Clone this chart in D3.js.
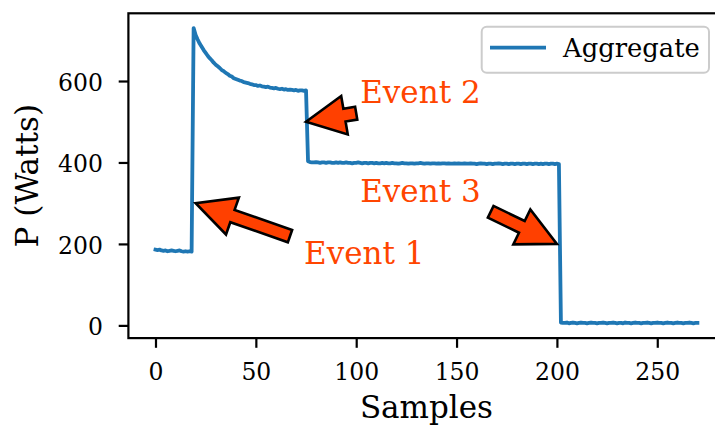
<!DOCTYPE html>
<html>
<head>
<meta charset="utf-8">
<script src="https://cdn.jsdelivr.net/npm/d3@7"></script>
<style>
  html, body { margin: 0; padding: 0; background: #fff; }
  svg { display: block; font-family: "DejaVu Serif", serif; }
</style>
</head>
<body>
<svg id="chart" width="715" height="425"></svg>
<script>
// Aggregate power per sample (W); sample number = index
const power = [
  186,185,186,184,183,184,182,183,184,183,182,183,184,182,181,182,181,182,181,
  730,
  713,702,692,684,676,669,662,656,651,645,640,
  636,632,627,624,620,617,613,611,607,605,
  603,601,600,597,596,595,593,592,590,590,
  588,589,587,586,585,586,584,583,582,583,
  581,580,581,579,580,578,579,578,577,578,576,577,577,576,577,
  403,
  401,400,400,401,400,399,400,400,399,400,
  400,399,399,400,399,400,399,399,400,399,
  399,398,399,399,400,399,398,399,399,398,
  399,399,398,399,398,398,399,398,399,398,
  398,399,398,398,397,398,399,398,398,397,
  398,398,397,398,398,399,398,397,398,398,
  397,398,398,397,398,397,398,398,397,398,
  397,397,398,397,398,397,397,398,397,397,
  398,397,397,396,397,398,397,397,396,397,
  397,396,397,397,398,397,396,397,397,396,
  397,397,396,397,397,396,397,397,396,397,
  397,396,397,397,396,397,396,397,397,396,
  397,397,396,397,
  396,
  7,6,6,7,5,6,7,6,5,6,
  7,6,6,5,6,7,6,6,5,6,
  6,7,6,5,6,6,7,6,5,6,
  6,5,7,6,6,5,6,7,6,6,
  5,6,6,7,6,5,6,6,7,6,
  6,5,6,7,6,6,5,6,7,6,
  6,5,6,6,7,6,5,6,6
];
const seriesName = "Aggregate";
const xTicks = [0, 50, 100, 150, 200, 250];
const yTicks = [0, 200, 400, 600];
const xLabel = "Samples";
const yLabel = "P (Watts)";

// Event annotations, in data units (sample, watts)
const eventLabels = ["Event 1", "Event 2", "Event 3"];
const eventTipX   = [20, 75, 200];
const eventTipY   = [300, 500, 200];
const eventTailX  = [67, 100, 167];
const eventTailY  = [219, 521, 279];
const eventTextX  = [74, 102, 102];
const eventTextY  = [150, 547, 303];

const plot = { left: 128.4, right: 724.5, top: 13.3, bottom: 338.1 };

const svg = d3.select("#chart");

// autoscaled limits with 5% margins
const xExt = [0, power.length - 1];
const xPad = (xExt[1] - xExt[0]) * 0.05;
const yExt = d3.extent(power);
const yPad = (yExt[1] - yExt[0]) * 0.05;

const x = d3.scaleLinear().domain([xExt[0] - xPad, xExt[1] + xPad]).range([plot.left, plot.right]);
const y = d3.scaleLinear().domain([yExt[0] - yPad, yExt[1] + yPad]).range([plot.bottom, plot.top]);

const tickLen = 9.7, tickFont = 23.5, spineW = 2.2, labelFont = 31;

// x axis
const gx = svg.append("g")
  .attr("transform", `translate(0,${plot.bottom})`)
  .call(d3.axisBottom(x).tickValues(xTicks).tickFormat(d3.format("d")).tickSize(tickLen).tickSizeOuter(0));
gx.select(".domain").remove();
gx.selectAll(".tick line").attr("stroke", "#000").attr("stroke-width", spineW);
gx.selectAll(".tick text")
  .attr("y", 41.5).attr("dy", null)
  .attr("fill", "#000")
  .style("font-family", "DejaVu Serif").style("font-size", tickFont + "px");

// y axis
const gy = svg.append("g")
  .attr("transform", `translate(${plot.left},0)`)
  .call(d3.axisLeft(y).tickValues(yTicks).tickFormat(d3.format("d")).tickSize(tickLen).tickSizeOuter(0));
gy.select(".domain").remove();
gy.selectAll(".tick line").attr("stroke", "#000").attr("stroke-width", spineW);
gy.selectAll(".tick text")
  .attr("x", -25.5).attr("dy", 9.5)
  .attr("fill", "#000")
  .style("font-family", "DejaVu Serif").style("font-size", tickFont + "px");

// power trace
const line = d3.line().x((d, i) => x(i)).y(d => y(d));
svg.append("path")
  .datum(power)
  .attr("d", line)
  .attr("fill", "none")
  .attr("stroke", "#1f77b4")
  .attr("stroke-width", 3.8)
  .attr("stroke-linejoin", "round")
  .attr("stroke-linecap", "square");

// frame
svg.append("rect")
  .attr("x", plot.left).attr("y", plot.top)
  .attr("width", plot.right - plot.left).attr("height", plot.bottom - plot.top)
  .attr("fill", "none").attr("stroke", "#000").attr("stroke-width", spineW);

// axis labels
svg.append("text")
  .attr("x", (plot.left + plot.right) / 2).attr("y", 417.5)
  .attr("text-anchor", "middle")
  .style("font-size", labelFont + "px")
  .text(xLabel);
svg.append("text")
  .attr("transform", `translate(37.5,${(plot.top + plot.bottom) / 2}) rotate(-90)`)
  .attr("text-anchor", "middle")
  .style("font-size", labelFont + "px")
  .text(yLabel);

// block arrows pointing at each event
function arrowPoints(tx, ty, px, py) {
  const dx = px - tx, dy = py - ty, L = Math.hypot(dx, dy);
  const ux = dx / L, uy = dy / L, nx = -uy, ny = ux;
  const hl = 39, hw = 19.5, tw = 6.5;
  const bx = px - ux * hl, by = py - uy * hl;
  return [
    [tx + nx * tw, ty + ny * tw],
    [bx + nx * tw, by + ny * tw],
    [bx + nx * hw, by + ny * hw],
    [px, py],
    [bx - nx * hw, by - ny * hw],
    [bx - nx * tw, by - ny * tw],
    [tx - nx * tw, ty - ny * tw]
  ];
}
const events = eventLabels.map((label, i) => ({
  label, tipX: eventTipX[i], tipY: eventTipY[i],
  tailX: eventTailX[i], tailY: eventTailY[i],
  textX: eventTextX[i], textY: eventTextY[i]
}));

svg.append("g").selectAll("polygon")
  .data(events)
  .join("polygon")
  .attr("points", d => arrowPoints(x(d.tailX), y(d.tailY), x(d.tipX), y(d.tipY)).map(p => p.join(",")).join(" "))
  .attr("fill", "#ff4000")
  .attr("stroke", "#000")
  .attr("stroke-width", 2.6)
  .attr("stroke-linejoin", "miter");

svg.append("g").selectAll("text")
  .data(events)
  .join("text")
  .attr("x", d => x(d.textX))
  .attr("y", d => y(d.textY))
  .attr("fill", "#ff4500")
  .style("font-size", "31px")
  .text(d => d.label);

// legend
const lg = svg.append("g");
lg.append("rect")
  .attr("x", 481.7).attr("y", 26.7).attr("width", 227.3).attr("height", 46)
  .attr("rx", 5).attr("ry", 5)
  .attr("fill", "#fff").attr("fill-opacity", 0.8)
  .attr("stroke", "#cccccc").attr("stroke-width", 2);
lg.append("line")
  .attr("x1", 490).attr("x2", 546).attr("y1", 47.7).attr("y2", 47.7)
  .attr("stroke", "#1f77b4").attr("stroke-width", 3.8);
lg.append("text")
  .attr("x", 563).attr("y", 57)
  .style("font-size", "25.8px")
  .text(seriesName);
</script>
</body>
</html>
